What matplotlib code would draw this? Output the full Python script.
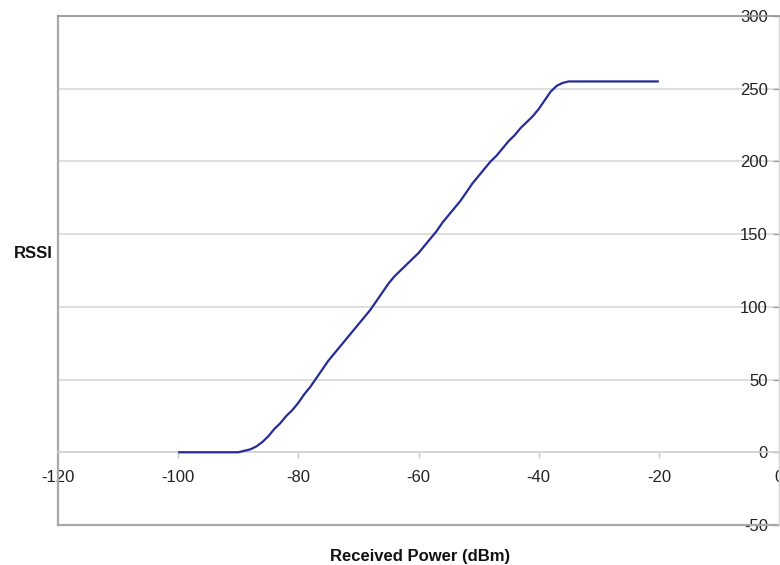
import matplotlib
matplotlib.use('Agg')
import matplotlib.pyplot as plt

# Data
power_dbm = [-100, -91, -90, -89, -88, -87, -86, -85, -84, -83, -82, -81, -80,
             -79, -78, -77, -76, -75, -74, -73, -72, -71, -70, -69, -68, -67,
             -66, -65, -64, -63, -62, -61, -60, -59, -58, -57, -56, -55, -54,
             -53, -52, -51, -50, -49, -48, -47, -46, -45, -44, -43, -42, -41,
             -40, -39, -38, -37, -36, -35, -20]
rssi = [0, 0, 0, 1, 2, 4, 7, 11, 16, 20, 25, 29, 34,
        40, 45, 51, 57, 63, 68, 73, 78, 83, 88, 93, 98, 104,
        110, 116, 121, 125, 129, 133, 137, 142, 147, 152, 158, 163, 168,
        173, 179, 185, 190, 195, 200, 204, 209, 214, 218, 223, 227, 231,
        236, 242, 248, 252, 254, 255, 255]

x_ticks = [-120, -100, -80, -60, -40, -20, 0]
y_ticks = [-50, 0, 50, 100, 150, 200, 250, 300]

plt.rcParams['font.family'] = ['Liberation Sans', 'DejaVu Sans']
plt.rcParams['axes.unicode_minus'] = False

W, H = 780, 565
fig = plt.figure(figsize=(W / 100, H / 100), dpi=100)
ax = fig.add_axes([58 / W, 40 / H, 721 / W, 509 / H])

ax.plot(power_dbm, rssi, color='#252c98', lw=1.6, solid_joinstyle='round',
        solid_capstyle='butt', zorder=3)

ax.set_xlim(-120, 0)
ax.set_ylim(-50, 300)

# grid
ax.set_yticks(y_ticks)
ax.set_xticks(x_ticks)
ax.yaxis.grid(True, color='#d9d9d9', lw=1.2, zorder=0)
ax.set_axisbelow(True)

# spines / frame
ax.spines['left'].set_color('#a8a8a8')
ax.spines['left'].set_linewidth(1.6)
ax.spines['top'].set_color('#9a9a9a')
ax.spines['top'].set_linewidth(1.3)
ax.spines['right'].set_color('#d4d4d4')
ax.spines['right'].set_linewidth(1.0)
ax.spines['bottom'].set_position(('data', 0))
ax.spines['bottom'].set_color('#d4d4d4')
ax.spines['bottom'].set_linewidth(1.2)
ax.axhline(-50, color='#a8a8a8', lw=1.6, clip_on=False, zorder=1)

# x axis ticks at y=0
ax.tick_params(axis='x', direction='out', length=4, width=1, color='#c8c8c8',
               pad=9, labelsize=12, labelcolor='#222222')

# y axis ticks on right, labels to the left of it
ax.yaxis.tick_right()
ax.tick_params(axis='y', direction='in', length=4, width=1, color='#a0a0a0',
               pad=-8, labelsize=12, labelcolor='#222222')
for lbl in ax.get_yticklabels():
    lbl.set_horizontalalignment('right')
    lbl.set_zorder(5)

# axis titles
ax.yaxis.set_label_position('left')
ax.set_ylabel('RSSI', rotation=0, fontweight='bold', fontsize=12,
              ha='center', va='center', color='#111111')
ax.yaxis.set_label_coords((33.5 - 58) / 721, (525 - 254) / 509)
ax.set_xlabel('Received Power (dBm)', fontweight='bold', fontsize=12,
              va='center', color='#111111')
ax.xaxis.set_label_coords((420.5 - 58) / 721, (525 - 556) / 509)

fig.savefig('out.png', dpi=100)
